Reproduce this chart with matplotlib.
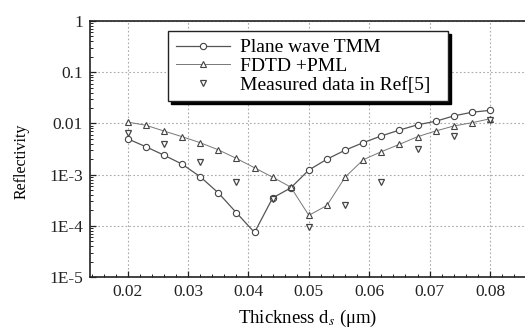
import matplotlib
matplotlib.use("Agg")
import matplotlib.pyplot as plt
from matplotlib.ticker import FixedLocator, MultipleLocator, LogLocator, NullFormatter

plt.rcParams['font.family'] = ['Liberation Serif', 'DejaVu Serif']
plt.rcParams['mathtext.fontset'] = 'stix'

# Data
thick_sim = [0.020, 0.023, 0.026, 0.029, 0.032, 0.035, 0.038, 0.041, 0.044, 0.047,
             0.050, 0.053, 0.056, 0.059, 0.062, 0.065, 0.068, 0.071, 0.074, 0.077, 0.080]
tmm = [5.0e-3, 3.5e-3, 2.4e-3, 1.6e-3, 9.1e-4, 4.4e-4, 1.8e-4, 7.4e-5, 3.5e-4, 5.5e-4,
       1.23e-3, 2.0e-3, 3.0e-3, 4.2e-3, 5.7e-3, 7.4e-3, 9.4e-3, 1.1e-2, 1.4e-2, 1.65e-2, 1.8e-2]
fdtd = [1.06e-2, 9.2e-3, 7.1e-3, 5.5e-3, 4.2e-3, 3.05e-3, 2.07e-3, 1.36e-3, 8.9e-4, 5.7e-4,
        1.6e-4, 2.5e-4, 8.9e-4, 1.95e-3, 2.8e-3, 3.9e-3, 5.5e-3, 7.1e-3, 8.9e-3, 1.03e-2, 1.23e-2]
thick_meas = [0.020, 0.026, 0.032, 0.038, 0.044, 0.050, 0.056, 0.062, 0.068, 0.074, 0.080]
measured = [6.5e-3, 3.9e-3, 1.8e-3, 7.1e-4, 3.4e-4, 9.5e-5, 2.6e-4, 7.3e-4, 3.1e-3, 5.7e-3, 1.15e-2]

xticks = [0.02, 0.03, 0.04, 0.05, 0.06, 0.07, 0.08]
xticklabels = ['0.02', '0.03', '0.04', '0.05', '0.06', '0.07', '0.08']
yticks = [1e-5, 1e-4, 1e-3, 1e-2, 1e-1, 1]
yticklabels = ['1E-5', '1E-4', '1E-3', '0.01', '0.1', '1']

fig = plt.figure(figsize=(5.25, 3.29), dpi=100)
ax = fig.add_axes([90/525, 1-277/329, 1-90/525, (277-21)/329])

ax.plot(thick_sim, tmm, '-', color='#555555', lw=0.9, marker='o', ms=4.5, mfc='white',
        mec='#444444', mew=0.8, label='Plane wave TMM')
ax.plot(thick_sim, fdtd, '-', color='#777777', lw=0.7, marker='^', ms=5, mfc='white',
        mec='#444444', mew=0.8, label='FDTD +PML')
ax.plot(thick_meas, measured, ls='none', marker='v', ms=5, mfc='white',
        mec='#444444', mew=0.9, label='Measured data in Ref[5]  ')

ax.set_yscale('log')
ax.set_xlim(0.01375, 0.0858)
ax.set_ylim(1e-5, 1)
ax.xaxis.set_major_locator(FixedLocator(xticks))
ax.set_xticklabels(xticklabels)
ax.xaxis.set_minor_locator(MultipleLocator(0.002))
ax.yaxis.set_major_locator(FixedLocator(yticks))
ax.set_yticklabels(yticklabels)
ax.yaxis.set_minor_locator(LogLocator(base=10, subs=range(2, 10)))
ax.yaxis.set_minor_formatter(NullFormatter())

ax.tick_params(which='both', direction='in', labelsize=12.5, colors='#222222')
ax.tick_params(which='major', length=4, width=0.9, pad=5)
ax.tick_params(which='minor', length=2, width=0.7)
ax.tick_params(right=False, top=False)

ax.grid(True, which='major', ls=(0, (1.5, 2)), color='#aaaaaa', lw=0.8)
for s in ['left', 'bottom', 'top']:
    ax.spines[s].set_linewidth(1.2)
    ax.spines[s].set_color('#222222')
ax.spines['right'].set_visible(False)

ax.set_xlabel('Thickness d$_s$ (μm)', fontsize=13.5, labelpad=6)
ax.set_ylabel('Reflectivity', fontsize=11.5)
ax.yaxis.set_label_coords(-0.14, 0.45)

leg = ax.legend(loc='upper left', bbox_to_anchor=(78/435, 0.961), fontsize=14,
                frameon=True, fancybox=False, shadow={'color': 'black', 'alpha': 1},
                borderpad=0.4, handlelength=2.8, labelspacing=0.05,
                handletextpad=0.5, borderaxespad=0)
leg.get_frame().set_edgecolor('#222222')
leg.get_frame().set_linewidth(1.0)

fig.savefig('out.png', dpi=100)
